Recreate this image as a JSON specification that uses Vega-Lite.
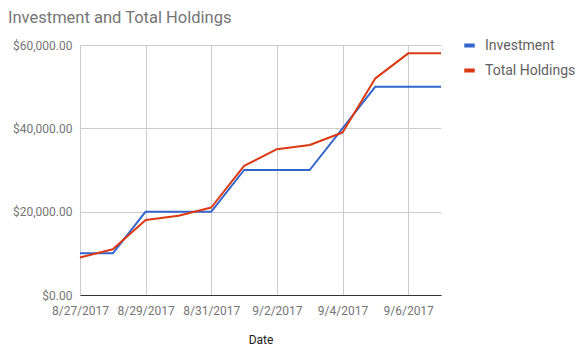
{
  "$schema": "https://vega.github.io/schema/vega-lite/v6.json",
  "autosize": "none",
  "width": 361,
  "height": 250,
  "padding": {"left": 80, "top": 45, "right": 141, "bottom": 57},
  "background": "white",
  "title": {"text": "Investment and Total Holdings", "anchor": "start", "frame": "group", "dx": -72, "offset": 12, "font": "Roboto", "fontSize": 16.5, "fontWeight": "normal", "color": "#757575"},
  "data": {"values": [
    {"date": "2017-08-27", "series": "Investment", "value": 10000},
    {"date": "2017-08-28", "series": "Investment", "value": 10000},
    {"date": "2017-08-29", "series": "Investment", "value": 20000},
    {"date": "2017-08-30", "series": "Investment", "value": 20000},
    {"date": "2017-08-31", "series": "Investment", "value": 20000},
    {"date": "2017-09-01", "series": "Investment", "value": 30000},
    {"date": "2017-09-02", "series": "Investment", "value": 30000},
    {"date": "2017-09-03", "series": "Investment", "value": 30000},
    {"date": "2017-09-04", "series": "Investment", "value": 40000},
    {"date": "2017-09-05", "series": "Investment", "value": 50000},
    {"date": "2017-09-06", "series": "Investment", "value": 50000},
    {"date": "2017-09-07", "series": "Investment", "value": 50000},
    {"date": "2017-08-27", "series": "Total Holdings", "value": 9000},
    {"date": "2017-08-28", "series": "Total Holdings", "value": 11000},
    {"date": "2017-08-29", "series": "Total Holdings", "value": 18000},
    {"date": "2017-08-30", "series": "Total Holdings", "value": 19000},
    {"date": "2017-08-31", "series": "Total Holdings", "value": 21000},
    {"date": "2017-09-01", "series": "Total Holdings", "value": 31000},
    {"date": "2017-09-02", "series": "Total Holdings", "value": 35000},
    {"date": "2017-09-03", "series": "Total Holdings", "value": 36000},
    {"date": "2017-09-04", "series": "Total Holdings", "value": 39000},
    {"date": "2017-09-05", "series": "Total Holdings", "value": 52000},
    {"date": "2017-09-06", "series": "Total Holdings", "value": 58000},
    {"date": "2017-09-07", "series": "Total Holdings", "value": 58000}
  ]},
  "mark": {"type": "line", "strokeWidth": 2, "strokeJoin": "round"},
  "encoding": {
    "x": {
      "field": "date", "type": "temporal", "title": "Date",
      "scale": {"type": "utc", "nice": false},
      "axis": {
        "values": [
          {"year": 2017, "month": 8, "date": 27, "utc": true},
          {"year": 2017, "month": 8, "date": 29, "utc": true},
          {"year": 2017, "month": 8, "date": 31, "utc": true},
          {"year": 2017, "month": 9, "date": 2, "utc": true},
          {"year": 2017, "month": 9, "date": 4, "utc": true},
          {"year": 2017, "month": 9, "date": 6, "utc": true}
        ],
        "labelExpr": "utcFormat(datum.value, '%-m/%-d/%Y')",
        "grid": true, "gridColor": "#cccccc", "ticks": false,
        "domainColor": "#333333", "domainWidth": 1,
        "labelFont": "Roboto", "labelFontSize": 12, "labelColor": "#757575", "labelPadding": 10,
        "labelFlush": false, "labelOverlap": false,
        "titleFont": "Roboto", "titleFontSize": 12, "titleFontWeight": "normal", "titleColor": "#222222", "titlePadding": 18
      }
    },
    "y": {
      "field": "value", "type": "quantitative", "title": null,
      "scale": {"domain": [0, 60000], "nice": false},
      "axis": {
        "values": [0, 20000, 40000, 60000], "format": "$,.2f",
        "grid": true, "gridColor": "#cccccc", "ticks": false, "domain": false,
        "labelFont": "Roboto", "labelFontSize": 12, "labelColor": "#757575", "labelPadding": 8
      }
    },
    "color": {
      "field": "series", "type": "nominal", "title": null,
      "scale": {"domain": ["Investment", "Total Holdings"], "range": ["#3366cc", "#dc3912"]},
      "legend": {
        "orient": "none", "legendX": 382, "legendY": -7,
        "symbolType": "stroke", "symbolStrokeWidth": 4, "symbolSize": 110,
        "labelFont": "Roboto", "labelFontSize": 14, "labelColor": "#616161",
        "rowPadding": 8, "labelOffset": 8
      }
    }
  },
  "config": {"view": {"stroke": null}}
}
